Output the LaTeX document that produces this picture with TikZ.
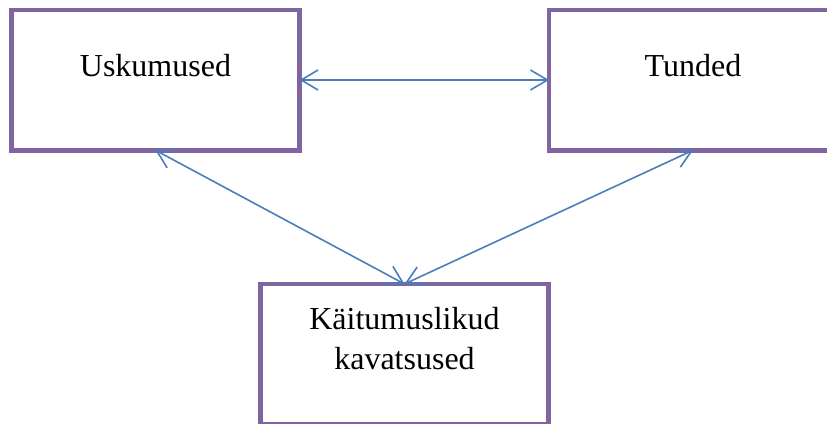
\documentclass[tikz,border=0pt]{standalone}
\usepackage{fontspec}
\setmainfont{Liberation Serif}
\usetikzlibrary{arrows.meta}
\definecolor{kastlilla}{HTML}{8064A2}
\definecolor{noolesinine}{HTML}{4A7EBB}
\tikzset{
  kast/.style={draw=kastlilla, line width=4.5pt, minimum width=288pt, minimum height=140.5pt, outer sep=0pt, inner sep=0pt},
  tekst/.style={font=\fontsize{32}{40}\selectfont, align=center, anchor=base},
  nool/.style={draw=noolesinine, line width=1.6pt, <->, >={Straight Barb[length=17pt,width=20pt,line width=1.6pt]}}
}
\begin{document}
\begin{tikzpicture}[x=1pt,y=-1pt]
\useasboundingbox (0,0) rectangle (827,423);
\node[kast] (usk) at (155.5,80) {};
\node[kast] (tun) at (693,80) {};
\node[kast] (kav) at (404.5,354.25) {};
\node[tekst] (uskt) at (155.5,76) {Uskumused};
\node[tekst] (tunt) at (693,76) {Tunded};
\node[tekst] (kavt) at (404.5,369) {Käitumuslikud\\kavatsused};
\path[nool] (usk.east) -- (tun.west);
\path[nool] (usk.south) -- (kav.north);
\path[nool] (tun.south) -- (kav.north);
\end{tikzpicture}
\end{document}
